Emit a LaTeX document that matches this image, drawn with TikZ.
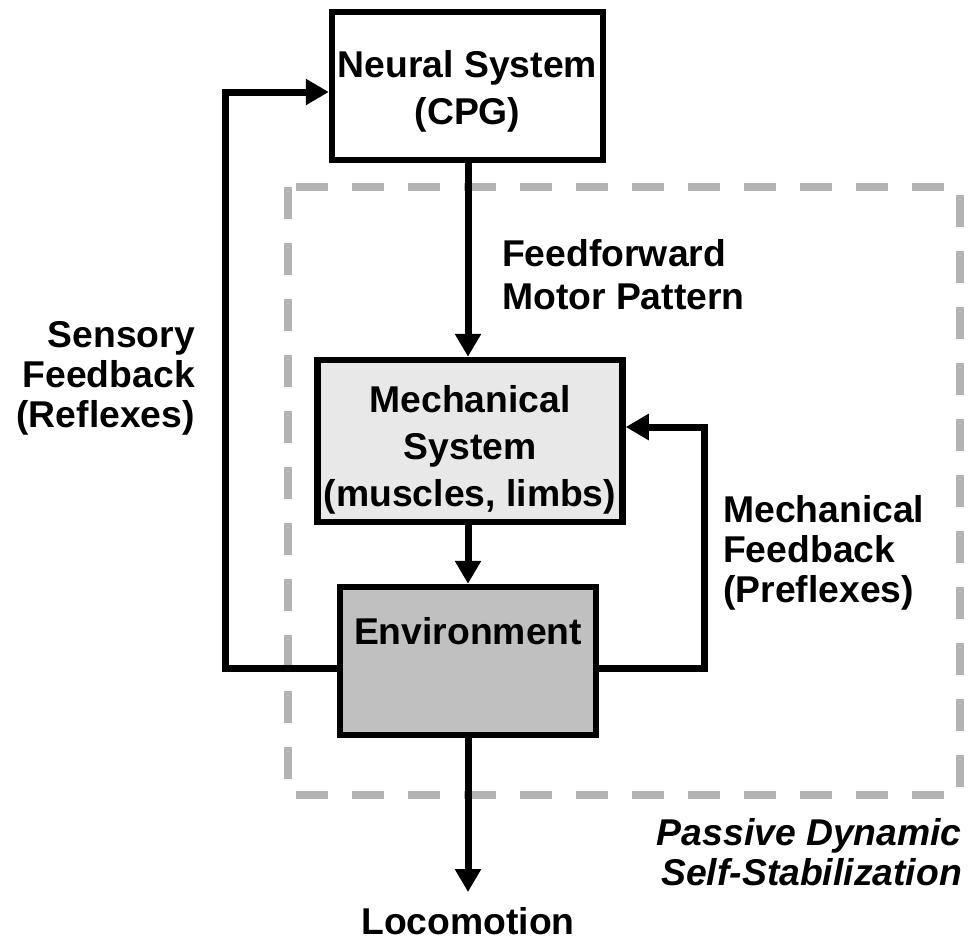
\documentclass[tikz,border=0pt]{standalone}
\usepackage{fontspec}
\setmainfont{Liberation Sans}
\usetikzlibrary{arrows.meta}
\definecolor{mechfill}{HTML}{E8E8E8}
\definecolor{envfill}{HTML}{C0C0C0}
\definecolor{dashgray}{HTML}{B3B3B3}
\newcommand\myboxfont{\fontsize{37.3bp}{47bp}\selectfont\bfseries}
\newcommand\mylabfont{\fontsize{37.3bp}{40bp}\selectfont\bfseries}
\newcommand\myffont{\fontsize{37.3bp}{43bp}\selectfont\bfseries}
\begin{document}
\begin{tikzpicture}[x=1bp,y=-1bp,
  boxbase/.style={draw, line width=6.5bp, inner sep=0pt},
  boxtext/.style={inner sep=0pt, align=center, font=\myboxfont, anchor=north},
  lab/.style={inner sep=0pt, font=\mylabfont},
  conn/.style={line width=7bp, line join=miter},
  arr/.style={conn, -{Triangle[width=25bp,length=23bp]}},
  dashbox/.style={draw=dashgray, line width=8bp, dash pattern=on 32bp off 24bp}]
\useasboundingbox (0,0) rectangle (976,941);
\draw[dashbox] (288,187) -- (288,795) -- (960,795) -- (960,187) -- cycle;
\node[boxbase, fill=white, minimum width=271bp, minimum height=148bp] (neural) at (467.5,86) {};
\node[boxtext] (neuralt) at (467.5,50) {Neural System\\(CPG)};
\node[boxbase, fill=mechfill, minimum width=305bp, minimum height=162bp] (mech) at (470,441) {};
\node[boxtext] (mecht) at (470,385) {Mechanical\\System\\(muscles, limbs)};
\node[boxbase, fill=envfill, minimum width=256bp, minimum height=148bp] (env) at (468,661) {};
\node[boxtext] (envt) at (468,617) {Environment};
\coordinate (lb) at (225,668);
\coordinate (lt) at (225,92);
\coordinate (rb) at (704,668);
\coordinate (rt) at (704,427);
\coordinate (lend) at (468,892);
\draw[arr] (neural.south -| lend) -- (mech.north -| lend);
\draw[arr] (mech.south -| lend) -- (env.north -| lend);
\draw[arr] (env.south -| lend) -- (lend);
\draw[arr] (env.west |- lb) -- (lb) -- (lt) -- (neural.west |- lt);
\draw[arr] (env.east |- rb) -- (rb) -- (rt) -- (mech.east |- rt);
\node[lab, font=\myffont, anchor=north west, align=left] (ff) at (502,239) {Feedforward\\Motor Pattern};
\node[lab, anchor=north east, align=right] (sf) at (195,321) {Sensory\\Feedback\\(Reflexes)};
\node[lab, anchor=north west, align=left] (mf) at (723,495) {Mechanical\\Feedback\\(Preflexes)};
\node[lab, anchor=north east, align=right, font=\mylabfont\itshape] (pd) at (962,818) {Passive Dynamic\\Self-Stabilization};
\node[lab, anchor=north] (loc) at (468,907) {Locomotion};
\end{tikzpicture}
\end{document}
